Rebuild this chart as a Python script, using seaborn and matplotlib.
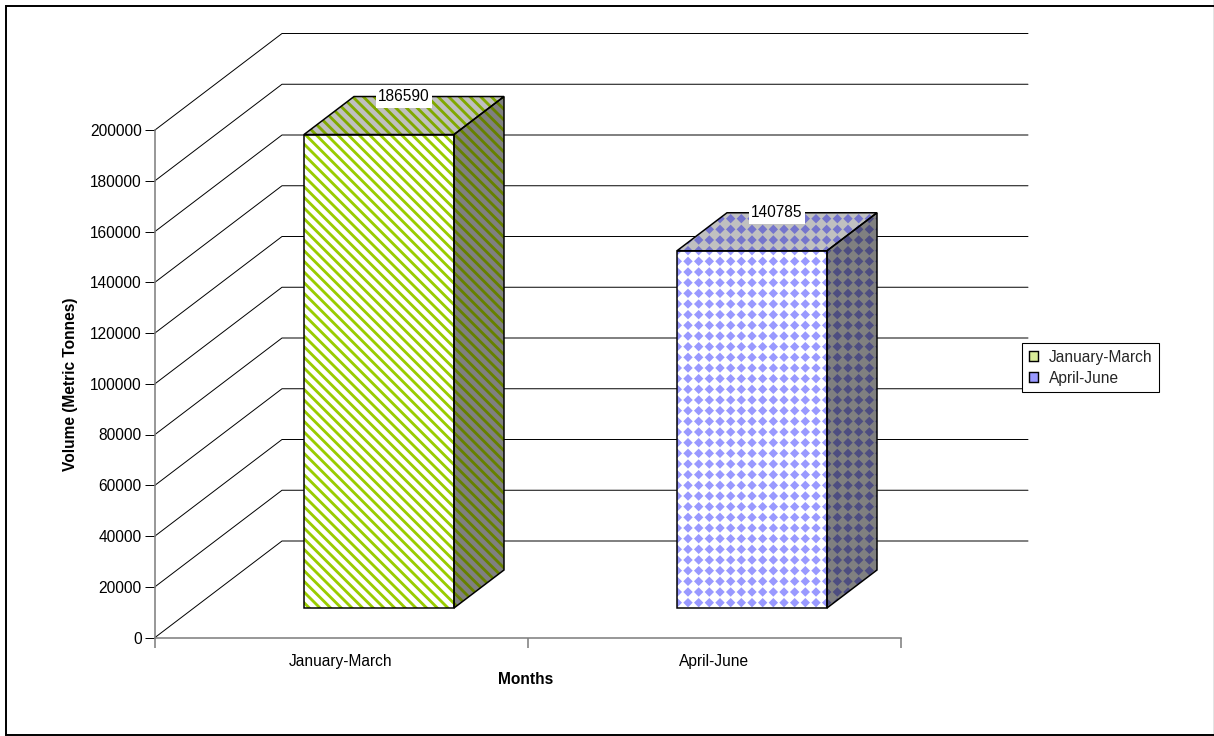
import numpy as np
import matplotlib
matplotlib.use("Agg")
import matplotlib.pyplot as plt
import matplotlib.hatch as mhatch
from matplotlib.lines import Line2D
from matplotlib.patches import Patch, Polygon, Rectangle
from matplotlib.path import Path
from matplotlib.transforms import ScaledTranslation
import seaborn as sns

months = ["January-March", "April-June"]
volumes = [186590, 140785]
y_ticks = [0, 20000, 40000, 60000, 80000, 100000, 120000, 140000, 160000, 180000, 200000]
front_colors = ["#99CC00", "#9999FF"]
top_colors = ["#80A800", "#7474CC"]
side_colors = ["#668000", "#4D4D80"]


class DiamondGrid(mhatch.HatchPatternBase):
    """Square grid of small filled diamonds, used in place of the '.' hatch."""
    half = 0.021

    def __init__(self, hatch, density):
        self.num_rows = hatch.count(".") * density
        self.num_vertices = self.num_rows ** 2 * 5
        self.filled = True

    def set_vertices_and_codes(self, vertices, codes):
        n = self.num_rows
        if n == 0:
            return
        h = self.half
        shape = np.array([[0, h], [h, 0], [0, -h], [-h, 0], [0, h]])
        shape_codes = [Path.MOVETO, Path.LINETO, Path.LINETO, Path.LINETO, Path.CLOSEPOLY]
        k = 0
        for r in range(n):
            for c in range(n):
                vertices[k:k + 5] = shape + [(c + 0.5) / n, (r + 0.5) / n]
                codes[k:k + 5] = shape_codes
                k += 5


mhatch._hatch_types[:] = [DiamondGrid if t is mhatch.SmallFilledCircles else t
                          for t in mhatch._hatch_types]

sns.set_style("white")
plt.rcParams["font.family"] = ["Liberation Sans", "DejaVu Sans"]
plt.rcParams["hatch.linewidth"] = 1.6

W, H, DPI = 1214, 736, 128
FONT = 8.75
fig = plt.figure(figsize=(W / DPI, H / DPI), dpi=DPI, facecolor="white")
ax = fig.add_axes([0, 0, 1, 1])

sns.barplot(x=months, y=volumes, hue=months, palette=front_colors, saturation=1,
            dodge=False, width=150 / 373, legend=False, ax=ax)

# Pixel scale of the category and value axes
px_per_cat = 373.0
px_per_val = 507.5 / 200000
x0_px, y0_px = 341.0, 637.5
ax.set_xlim(-x0_px / px_per_cat, (W - x0_px) / px_per_cat)
ax.set_ylim((y0_px - H) / px_per_val, y0_px / px_per_val)

# Oblique projection: wall offset, bar plane offset and bar depth
wall_dx, wall_dy = 127 / px_per_cat, 96.5 / px_per_val
depth_dx, depth_dy = 50 / px_per_cat, 38 / px_per_val
bar_plane = ScaledTranslation(38 / DPI, 29.5 / DPI, fig.dpi_scale_trans)
bar_trans = ax.transData + bar_plane

# Walls: oblique rule from the value axis, then the horizontal rule along the back
x_left = (155 - x0_px) / px_per_cat
x_right = (1028 - x0_px) / px_per_cat
for v in y_ticks:
    ax.plot([x_left, x_left + wall_dx, x_right],
            [v, v + wall_dy, v + wall_dy],
            color="black", lw=0.55, zorder=1, solid_joinstyle="miter")

hatches = ["\\\\\\\\", ".."]
for i, (bar, value) in enumerate(zip(ax.patches, volumes)):
    x_a = bar.get_x()
    x_b = x_a + bar.get_width()
    bar.set_transform(bar_trans)
    bar.set(facecolor="white", edgecolor=front_colors[i], hatch=hatches[i], linewidth=0, zorder=3)
    top = Polygon([(x_a, value), (x_b, value), (x_b + depth_dx, value + depth_dy),
                   (x_a + depth_dx, value + depth_dy)],
                  facecolor="#C0C0C0", edgecolor=top_colors[i], hatch=hatches[i],
                  linewidth=0, transform=bar_trans, zorder=3)
    side = Polygon([(x_b, 0), (x_b + depth_dx, depth_dy), (x_b + depth_dx, value + depth_dy),
                    (x_b, value)],
                   facecolor="#808080", edgecolor=side_colors[i], hatch=hatches[i],
                   linewidth=0, transform=bar_trans, zorder=3)
    ax.add_patch(top)
    ax.add_patch(side)
    # Black outlines over the hatched faces
    for pts in ([(x_a, 0), (x_b, 0), (x_b, value), (x_a, value)],
                top.get_xy()[:4], side.get_xy()[:4]):
        ax.add_patch(Polygon(pts, fill=False, edgecolor="black", linewidth=0.85,
                             transform=bar_trans, zorder=4, joinstyle="miter"))
    # White plate behind the value label, 56 by 20 pixels
    label_x = (x_a + x_b + depth_dx) / 2
    label_y = value + depth_dy
    ax.add_patch(Rectangle((label_x - 28 / px_per_cat, label_y - 11.5 / px_per_val),
                           56 / px_per_cat, 20 / px_per_val, facecolor="white",
                           edgecolor="none", transform=bar_trans, zorder=5))
    ax.text(label_x, label_y, str(value), transform=bar_trans, ha="center", va="center",
            fontsize=FONT, color="black", zorder=6)

# Value axis and category axis
sns.despine(ax=ax, top=True, right=True)
ax.spines["left"].set_position(("data", x_left))
ax.spines["left"].set_bounds(0, 200000)
ax.spines["bottom"].set_position(("data", 0))
x_end = (901 - x0_px) / px_per_cat
ax.spines["bottom"].set_bounds(x_left, x_end)
for name in ("left", "bottom"):
    ax.spines[name].set_color("#808080")
    ax.spines[name].set_linewidth(0.9)
    ax.spines[name].set_zorder(2)

ax.set_yticks(y_ticks)
ax.set_yticklabels([str(v) for v in y_ticks])
ax.tick_params(axis="y", which="major", left=True, direction="out", length=5.6, width=0.55,
               color="black", pad=1.9, labelsize=FONT, labelcolor="black")
ax.set_xticks([0, 1])
ax.set_xticklabels(months)
ax.set_xticks([x_left, (x_left + x_end) / 2, x_end], minor=True)
ax.tick_params(axis="x", which="major", bottom=False, length=0, pad=9.5, labelsize=FONT,
               labelcolor="black")
ax.tick_params(axis="x", which="minor", bottom=True, direction="out", length=5.6, width=0.9,
               color="#808080")

ax.set_xlabel("")
ax.set_ylabel("")
fig.text(526 / W, 1 - 680 / H, "Months", ha="center", va="center", fontsize=FONT,
         fontweight="bold", color="black")
fig.text(70 / W, 1 - 384 / H, "Volume (Metric Tonnes)", ha="center", va="center",
         rotation=90, fontsize=FONT, fontweight="bold", color="black")

handles = [Patch(facecolor="#D9EC99", edgecolor="black", linewidth=0.8),
           Patch(facecolor="#9999FF", edgecolor="black", linewidth=0.8)]
legend = ax.legend(handles, months, loc="upper left",
                   bbox_to_anchor=(1022 / W, 1 - 343 / H), bbox_transform=fig.transFigure,
                   borderaxespad=0, fontsize=FONT, frameon=True, fancybox=False,
                   edgecolor="black", facecolor="white", framealpha=1,
                   handlelength=0.6, handleheight=0.6, handletextpad=0.7,
                   labelspacing=0.4, borderpad=0.42)
legend.get_frame().set_linewidth(0.6)
legend.set_zorder(8)

# Outer chart frame, open on the right
frame_x, frame_top, frame_bottom = 5.5 / W, 1 - 5.5 / H, 1 - 735 / H
fig.add_artist(Line2D([1, frame_x, frame_x, 1],
                      [frame_top, frame_top, frame_bottom, frame_bottom],
                      color="black", lw=1.1, transform=fig.transFigure,
                      solid_joinstyle="miter"))
fig.add_artist(Rectangle((1213 / W, 0), 1 / W, 1, facecolor="#E4E4E4", edgecolor="none",
                         transform=fig.transFigure))

fig.savefig("out.png", dpi=DPI, facecolor="white")
